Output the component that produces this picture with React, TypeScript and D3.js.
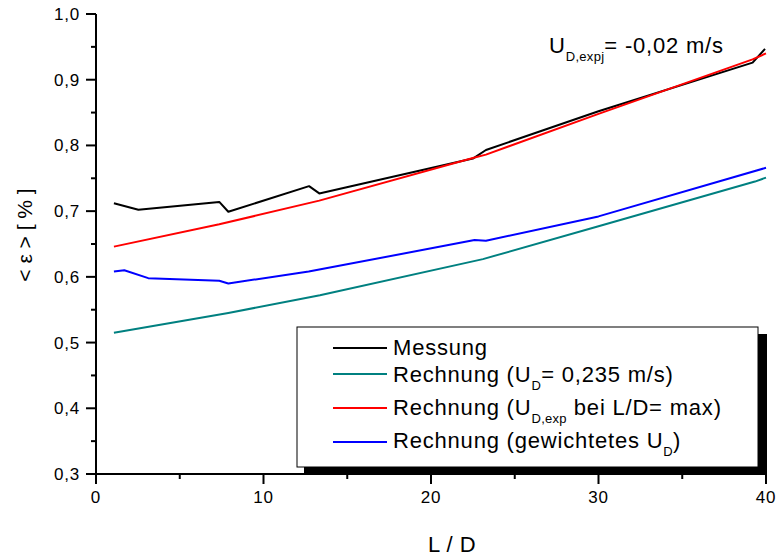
import React from "react";
import * as d3 from "d3";

const xMessung = [1.07, 2.53, 7.36, 7.9, 12.72, 13.33, 22.5, 23.28, 30, 39.2, 39.94];
const yMessung = [0.712, 0.702, 0.714, 0.699, 0.738, 0.727, 0.780, 0.793, 0.852, 0.926, 0.947];

const xConst = [1.07, 7.9, 13.37, 23.1, 30, 39.34, 40];
const yConst = [0.515, 0.545, 0.572, 0.627, 0.677, 0.745, 0.751];

const xMax = [1.07, 7.36, 13.33, 22.5, 23.28, 30, 39.2, 40];
const yMax = [0.646, 0.680, 0.716, 0.781, 0.786, 0.848, 0.931, 0.940];

const xWeighted = [1.07, 1.69, 3.12, 7.36, 7.9, 12.7, 22.6, 23.28, 30, 40];
const yWeighted = [0.608, 0.610, 0.598, 0.594, 0.590, 0.608, 0.656, 0.655, 0.692, 0.766];

const xTicks = [0, 10, 20, 30, 40];
const xMinorTicks = [5, 15, 25, 35];
const yTicks = [0.3, 0.4, 0.5, 0.6, 0.7, 0.8, 0.9, 1.0];
const yMinorTicks = [0.35, 0.45, 0.55, 0.65, 0.75, 0.85, 0.95];

const series = [
  { xs: xMessung, ys: yMessung, color: "#000000" },
  { xs: xConst, ys: yConst, color: "#008080" },
  { xs: xMax, ys: yMax, color: "#ff0000" },
  { xs: xWeighted, ys: yWeighted, color: "#0000ff" },
];

const FONT = "'Liberation Sans', Arial, sans-serif";

export default function App() {
  const left = 96, right = 766, top = 14, bottom = 474;
  const x = d3.scaleLinear().domain([0, 40]).range([left, right]);
  const y = d3.scaleLinear().domain([0.3, 1.0]).range([bottom, top]);
  const line = d3.line<[number, number]>().x((d) => x(d[0])).y((d) => y(d[1]));
  const fmt = (v: number) => v.toFixed(1).replace(".", ",");

  const legendItems = [
    { color: "#000000", main: "Messung", sub: "", rest: "" },
    { color: "#008080", main: "Rechnung (U", sub: "D", rest: "= 0,235 m/s)" },
    { color: "#ff0000", main: "Rechnung (U", sub: "D,exp", rest: " bei L/D= max)" },
    { color: "#0000ff", main: "Rechnung (gewichtetes U", sub: "D", rest: ")" },
  ];
  const legendLineY = [348, 374, 408, 442];
  const legendBase = [355, 382, 415, 448];

  return (
    <svg width={778} height={560} style={{ position: "absolute", left: 0, top: 0, background: "#fff" }} fontFamily={FONT}>
      <rect x={0} y={0} width={778} height={560} fill="#fff" />
      {series.map((s, i) => (
        <path key={i} d={line(s.xs.map((v, j) => [v, s.ys[j]]) as [number, number][]) || ""} fill="none" stroke={s.color} strokeWidth={2} strokeLinejoin="round" />
      ))}

      {/* Legend */}
      <rect x={304} y={334} width={463} height={140} fill="#000" />
      <rect x={297} y={327} width={461} height={140} fill="#fff" stroke="#000" strokeWidth={1} />
      {legendItems.map((it, i) => (
        <g key={i}>
          <line x1={333} x2={387} y1={legendLineY[i]} y2={legendLineY[i]} stroke={it.color} strokeWidth={2} />
          <text x={393} y={legendBase[i]} fontSize={22} letterSpacing={0.8} fill="#000">
            {it.main}
            {it.sub && (
              <tspan fontSize={13} letterSpacing={0.3} dy={8}>{it.sub}</tspan>
            )}
            {it.sub && <tspan dy={-8}>{it.rest}</tspan>}
          </text>
        </g>
      ))}

      {/* Axes */}
      <line x1={left} x2={left} y1={top} y2={bottom} stroke="#000" strokeWidth={2} />
      <line x1={left - 10} x2={right + 1} y1={bottom} y2={bottom} stroke="#000" strokeWidth={2} />
      {yTicks.map((t) => (
        <g key={t}>
          <line x1={left - 10} x2={left} y1={y(t)} y2={y(t)} stroke="#000" strokeWidth={2} />
          <text x={80} y={y(t) + 6} textAnchor="end" fontSize={17} letterSpacing={0.8}>{fmt(t)}</text>
        </g>
      ))}
      {yMinorTicks.map((t) => (
        <line key={t} x1={left - 5} x2={left} y1={y(t)} y2={y(t)} stroke="#000" strokeWidth={2} />
      ))}
      {xTicks.map((t) => (
        <g key={t}>
          <line x1={x(t)} x2={x(t)} y1={bottom} y2={bottom + 10} stroke="#000" strokeWidth={2} />
          <text x={x(t)} y={503} textAnchor="middle" fontSize={17} letterSpacing={0.8}>{t}</text>
        </g>
      ))}
      {xMinorTicks.map((t) => (
        <line key={t} x1={x(t)} x2={x(t)} y1={bottom} y2={bottom + 5} stroke="#000" strokeWidth={2} />
      ))}

      {/* Axis titles */}
      <text x={452} y={552} textAnchor="middle" fontSize={22} letterSpacing={0.5}>L / D</text>
      <text transform="translate(32,235) rotate(-90)" textAnchor="middle" fontSize={21}>{"< ε > [ % ]"}</text>

      {/* Annotation */}
      <text x={549} y={53} fontSize={22} letterSpacing={0.8}>
        U<tspan fontSize={13} letterSpacing={0.3} dy={8}>D,expj</tspan><tspan dy={-8}>= -0,02 m/s</tspan>
      </text>
    </svg>
  );
}
